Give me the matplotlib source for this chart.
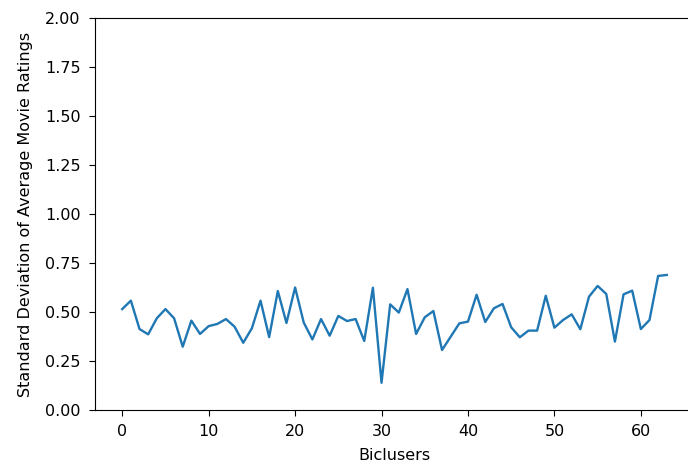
import matplotlib
matplotlib.use("Agg")
import matplotlib.pyplot as plt

biclusters = list(range(64))
std_dev = [0.515, 0.558, 0.413, 0.386, 0.468, 0.515, 0.468, 0.323, 0.456, 0.388,
           0.428, 0.439, 0.464, 0.425, 0.343, 0.417, 0.558, 0.372, 0.607, 0.444,
           0.625, 0.446, 0.360, 0.464, 0.379, 0.480, 0.454, 0.464, 0.352, 0.624,
           0.139, 0.539, 0.497, 0.617, 0.388, 0.473, 0.505, 0.306, 0.374, 0.442,
           0.451, 0.588, 0.449, 0.519, 0.541, 0.422, 0.371, 0.405, 0.405, 0.583,
           0.420, 0.459, 0.488, 0.412, 0.578, 0.633, 0.592, 0.349, 0.590, 0.609,
           0.413, 0.459, 0.684, 0.689]

plt.rcParams['font.size'] = 11.5

fig = plt.figure(figsize=(6.88, 4.67), dpi=100)
# axes run a little past the right edge, like the cropped original
ax = fig.add_axes([95/688, 1-410/467, (694-95)/688, (410-18)/467])
ax.plot(biclusters, std_dev, color='#1f77b4', linewidth=1.7)
ax.set_ylim(0, 2)
ax.set_xlim(-3.15, 66.15)
ax.set_yticks([0, 0.25, 0.5, 0.75, 1.0, 1.25, 1.5, 1.75, 2.0])
ax.tick_params(length=4.2, pad=6)
ax.set_xlabel('Biclusers', labelpad=6)
ax.set_ylabel('Standard Deviation of Average Movie Ratings', labelpad=9)
fig.savefig('out.png')
